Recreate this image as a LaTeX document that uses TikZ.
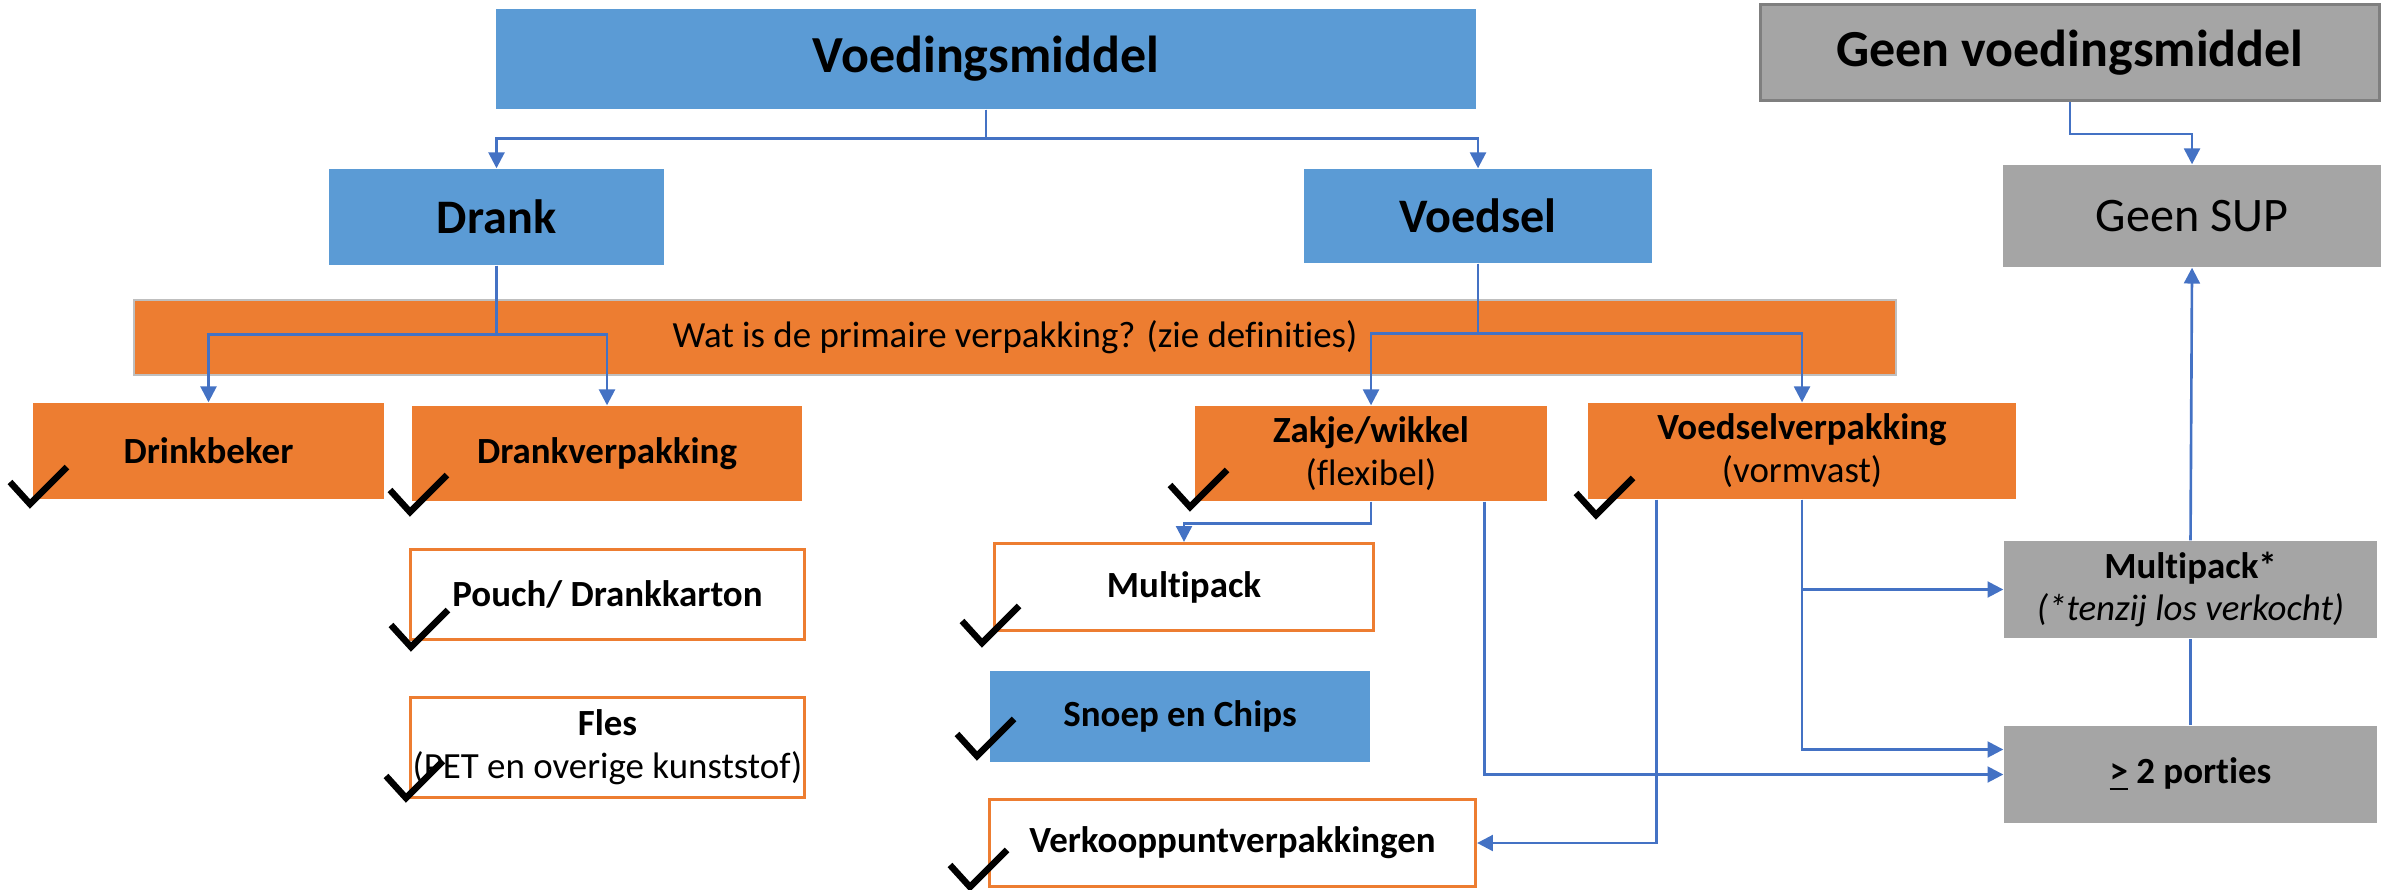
\documentclass[tikz,border=0pt]{standalone}
\usepackage{fontspec}
\setmainfont{Carlito}[Ligatures=NoCommon]
\usepackage{tikz}
\usetikzlibrary{arrows.meta}
\definecolor{BoxBlue}{HTML}{5B9BD5}
\definecolor{BoxOrange}{HTML}{ED7D31}
\definecolor{BoxGray}{HTML}{A5A5A5}
\definecolor{EdgeGray}{HTML}{7F7F7F}
\definecolor{LineBlue}{HTML}{4472C4}

\newcommand{\fsgroot}{\fontsize{14.8}{17}\selectfont\bfseries}
\newcommand{\fsmid}{\fontsize{13.7}{16}\selectfont}
\newcommand{\fsklein}{\fontsize{10.5}{12.2}\selectfont}
\newcommand{\vink}[1]{\draw[vink] (#1) ++(-0.2,0.22) -- (#1) -- ++(0.37,0.37);}

\begin{document}
\begin{tikzpicture}[
    box/.style={inner sep=0pt, align=center, text=black, font=\fsklein},
    bluebox/.style={box, fill=BoxBlue},
    orangebox/.style={box, fill=BoxOrange},
    whitebox/.style={box, fill=white, draw=BoxOrange, line width=0.9pt},
    graybox/.style={box, fill=BoxGray},
    arr/.style={LineBlue, line width=0.75pt, -{Triangle[width=4.5pt,length=4.5pt]}},
    lijn/.style={LineBlue, line width=0.75pt},
    vink/.style={black, line width=0.065cm, line join=miter}
  ]
    \useasboundingbox (0,0) rectangle (23.94,-8.89);

    % bovenste rij
    \node[bluebox, minimum width=9.8cm, minimum height=1.0cm, font=\fsgroot] (voedingsmiddel) at (9.86,-0.59) {Voedingsmiddel};
    \node[graybox, draw=EdgeGray, line width=0.9pt, minimum width=6.19cm, minimum height=0.96cm, font=\fsgroot] (geen) at (20.70,-0.525) {Geen voedingsmiddel};

    \node[bluebox, minimum width=3.35cm, minimum height=0.96cm, font=\fsmid\bfseries] (drank) at (4.965,-2.17) {Drank};
    \node[bluebox, minimum width=3.48cm, minimum height=0.94cm, font=\fsmid\bfseries] (voedsel) at (14.78,-2.16) {Voedsel};
    \node[graybox, minimum width=3.78cm, minimum height=1.02cm, font=\fsmid] (geensup) at (21.92,-2.16) {Geen SUP};

    \node[orangebox, draw=black!25, line width=0.5pt, minimum width=17.62cm, minimum height=0.75cm] (vraag) at (10.15,-3.375) {Wat is de primaire verpakking? (zie definities)};

    % verpakkingen
    \node[orangebox, minimum width=3.51cm, minimum height=0.96cm, font=\fsklein\bfseries] (drinkbeker) at (2.085,-4.51) {Drinkbeker};
    \node[orangebox, minimum width=3.9cm, minimum height=0.95cm, font=\fsklein\bfseries] (drankverp) at (6.07,-4.535) {Drankverpakking};
    \node[orangebox, minimum width=3.52cm, minimum height=0.95cm] (zakje) at (13.71,-4.535) {\textbf{Zakje/wikkel}\\(flexibel)};
    \node[orangebox, minimum width=4.28cm, minimum height=0.96cm] (voedselverp) at (18.02,-4.51) {\textbf{Voedselverpakking}\\(vormvast)};

    \node[whitebox, minimum width=3.94cm, minimum height=0.90cm] (pouch) at (6.075,-5.945) {\textbf{Pouch/ Drankkarton}};
    \node[whitebox, minimum width=3.94cm, minimum height=1.0cm] (fles) at (6.075,-7.475) {\textbf{Fles}\\(PET en overige kunststof)};

    \node[whitebox, minimum width=3.79cm, minimum height=0.87cm] (multipack) at (11.84,-5.87) {\textbf{Multipack}};
    \node[bluebox, minimum width=3.80cm, minimum height=0.91cm] (snoep) at (11.80,-7.165) {\textbf{Snoep en Chips}};
    \node[whitebox, minimum width=4.86cm, minimum height=0.87cm] (verkoop) at (12.325,-8.43) {\textbf{Verkooppuntverpakkingen}};

    \node[graybox, minimum width=3.73cm, minimum height=0.97cm] (multipackster) at (21.905,-5.895) {\textbf{Multipack*}\\\textit{(*tenzij los verkocht)}};
    \node[graybox, minimum width=3.73cm, minimum height=0.97cm] (porties) at (21.905,-7.745) {\textbf{\underline{>} 2 porties}};

    % verbindingen
    \draw[arr] (voedingsmiddel.south) -- ++(0,-0.29) -| (drank.north);
    \draw[arr] (voedingsmiddel.south) -- ++(0,-0.29) -| (voedsel.north);
    \draw[arr] (geen.south) -- ++(0,-0.32) -| (geensup.north);
    \draw[arr] (drank.south) -- ++(0,-0.69) -| (drinkbeker.north);
    \draw[arr] (drank.south) -- ++(0,-0.69) -| (drankverp.north);
    \draw[arr] (voedsel.south) -- ++(0,-0.70) -| (zakje.north);
    \draw[arr] (voedsel.south) -- ++(0,-0.70) -| (voedselverp.north);
    \draw[arr] (zakje.south) -- ++(0,-0.22) -| (multipack.north);
    \draw[arr] ([xshift=-0.63cm]zakje.south east) |- (porties.west);
    \draw[arr] ([xshift=0.69cm]voedselverp.south west) |- (verkoop.east);
    \draw[arr] (voedselverp.south) |- (multipackster.west);
    \draw[arr] (voedselverp.south) |- ([yshift=0.25cm]porties.west);
    \draw[lijn] (porties.north) -- (multipackster.south);
    \draw[arr] (multipackster.north) -- (geensup.south);

    % vinkjes
    \vink{0.30,-5.04}
    \vink{4.10,-5.12}
    \vink{11.90,-5.07}
    \vink{15.96,-5.15}
    \vink{4.11,-6.47}
    \vink{4.06,-7.98}
    \vink{9.82,-6.43}
    \vink{9.77,-7.56}
    \vink{9.70,-8.87}
\end{tikzpicture}
\end{document}
